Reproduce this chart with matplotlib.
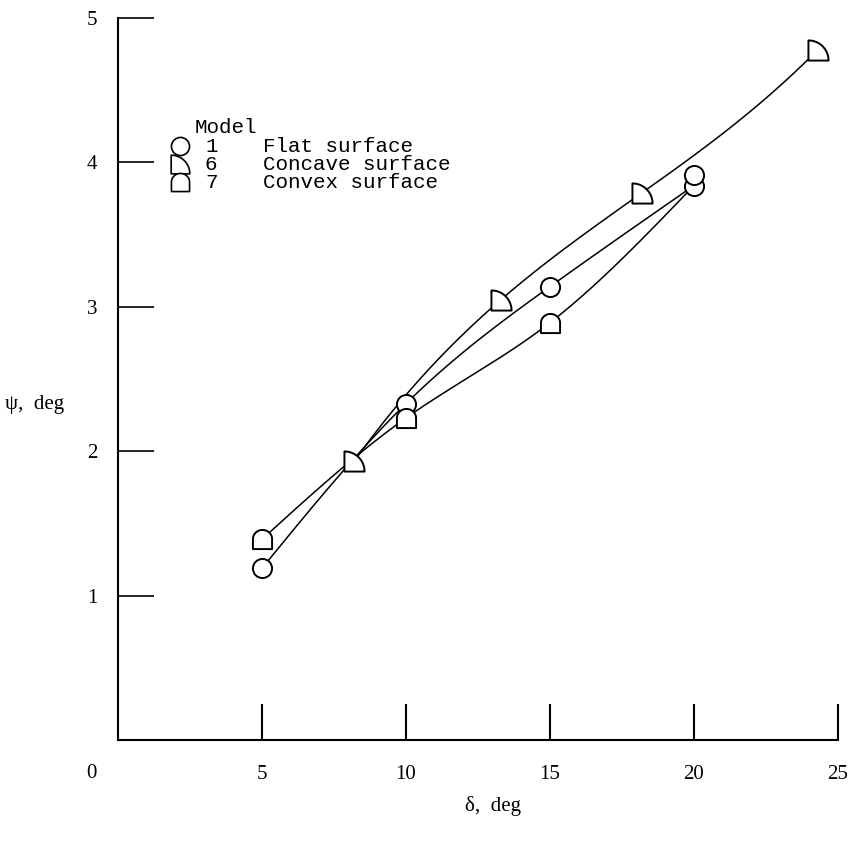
import numpy as np
import matplotlib
matplotlib.use('Agg')
import matplotlib.pyplot as plt
from matplotlib.path import Path

# measured points: delta (deg) vs psi (deg)
flat_delta = [5.0, 10.0, 15.0, 20.0, 20.0]
flat_psi = [1.19, 2.33, 3.14, 3.84, 3.91]
concave_delta = [8.2, 13.3, 18.2, 24.3]
concave_psi = [1.93, 3.05, 3.79, 4.78]
convex_delta = [5.0, 10.0, 15.0]
convex_psi = [1.39, 2.23, 2.89]

models = ['1', '6', '7']
model_names = ['Flat surface', 'Concave surface', 'Convex surface']
xticks = [5, 10, 15, 20, 25]
yticks = [1, 2, 3, 4, 5]


def poly_curve(xs, ys, n=200):
    # polynomial through all the points of one model
    c = np.polyfit(xs, ys, len(xs) - 1)
    xx = np.linspace(min(xs), max(xs), n)
    return xx, np.polyval(c, xx)


def spline_curve(xs, ys, n=60):
    # natural cubic spline
    xs = np.asarray(xs, float)
    ys = np.asarray(ys, float)
    k = len(xs)
    h = np.diff(xs)
    d = np.diff(ys) / h
    A = np.zeros((k, k))
    r = np.zeros(k)
    A[0, 0] = A[-1, -1] = 1
    for i in range(1, k - 1):
        A[i, i - 1] = h[i - 1]
        A[i, i] = 2 * (h[i - 1] + h[i])
        A[i, i + 1] = h[i]
        r[i] = 6 * (d[i] - d[i - 1])
    M = np.linalg.solve(A, r)
    px, py = [], []
    for i in range(k - 1):
        t = np.linspace(xs[i], xs[i + 1], n)
        a_ = (xs[i + 1] - t) / h[i]
        b_ = (t - xs[i]) / h[i]
        s = a_ * ys[i] + b_ * ys[i + 1] + ((a_ ** 3 - a_) * M[i] + (b_ ** 3 - b_) * M[i + 1]) * h[i] ** 2 / 6
        px.append(t)
        py.append(s)
    return np.concatenate(px), np.concatenate(py)


# marker shapes
a = np.linspace(np.pi / 2, 0, 24)
quarter = np.vstack([[-1, -1], [-1, 1], np.column_stack([-1 + 2 * np.cos(a), -1 + 2 * np.sin(a)]), [-1, -1]])
concave_marker = Path(quarter, closed=True)
b = np.linspace(0, np.pi, 24)
dome = np.vstack([[-1, -1], [1, -1], np.column_stack([np.cos(b), 0.05 + 0.95 * np.sin(b)]), [-1, -1]])
convex_marker = Path(dome, closed=True)

fig = plt.figure(figsize=(8.51, 8.51), dpi=100)
ax = fig.add_axes([118 / 851, 111 / 851, 720 / 851, 722 / 851])

lw = 1.1
# flat and convex curves both end at the lower point at 20
x, y = spline_curve(flat_delta[:4], flat_psi[:4])
ax.plot(x, y, color='black', lw=lw)
x, y = poly_curve(concave_delta, concave_psi)
ax.plot(x, y, color='black', lw=lw)
x, y = spline_curve(convex_delta + [flat_delta[3]], convex_psi + [flat_psi[3]])
ax.plot(x, y, color='black', lw=lw)

mk = dict(facecolor='white', edgecolor='black', linewidths=1.4, zorder=3)
ax.scatter(flat_delta, flat_psi, marker='o', s=190, **mk)
ax.scatter(concave_delta, concave_psi, marker=concave_marker, s=210, **mk)
ax.scatter(convex_delta, convex_psi, marker=convex_marker, s=190, **mk)

ax.set_xlim(0, 25)
ax.set_ylim(0, 5)
ax.spines['top'].set_visible(False)
ax.spines['right'].set_visible(False)
for s in ['left', 'bottom']:
    ax.spines[s].set_linewidth(1.5)
ax.set_xticks(xticks)
ax.set_yticks(yticks)
ax.tick_params(axis='x', direction='in', length=26, width=1.5, pad=18, labelsize=15)
ax.tick_params(axis='y', direction='in', length=26, width=1.2, pad=15, labelsize=15)
for lab in ax.get_xticklabels() + ax.get_yticklabels():
    lab.set_family('Liberation Serif')
fig.text(91 / 851, 1 - 773 / 851, '0', ha='center', va='center',
         family='Liberation Serif', fontsize=15)

fig.text(5 / 851, 1 - 405 / 851, 'ψ,  deg', family='Liberation Serif', fontsize=15, va='center')
fig.text(493 / 851, 1 - 806 / 851, 'δ,  deg', family='Liberation Serif', fontsize=15,
         ha='center', va='center')

# legend block
mono = dict(family='Liberation Mono', fontsize=15, va='center')
fig.text(195 / 851, 1 - 127 / 851, 'Model', **mono)
rows_y = [146, 164, 182]
markers = ['o', concave_marker, convex_marker]
sizes = [170, 180, 170]
for yy, m, sz, num, name in zip(rows_y, markers, sizes, models, model_names):
    fig.text(205 / 851, 1 - yy / 851, num, **mono)
    fig.text(263 / 851, 1 - yy / 851, name, **mono)
    ax.scatter([180 / 851], [1 - yy / 851], marker=m, s=sz, transform=fig.transFigure,
               facecolor='white', edgecolor='black', linewidths=1.2, clip_on=False)

fig.savefig('out.png', dpi=100)
